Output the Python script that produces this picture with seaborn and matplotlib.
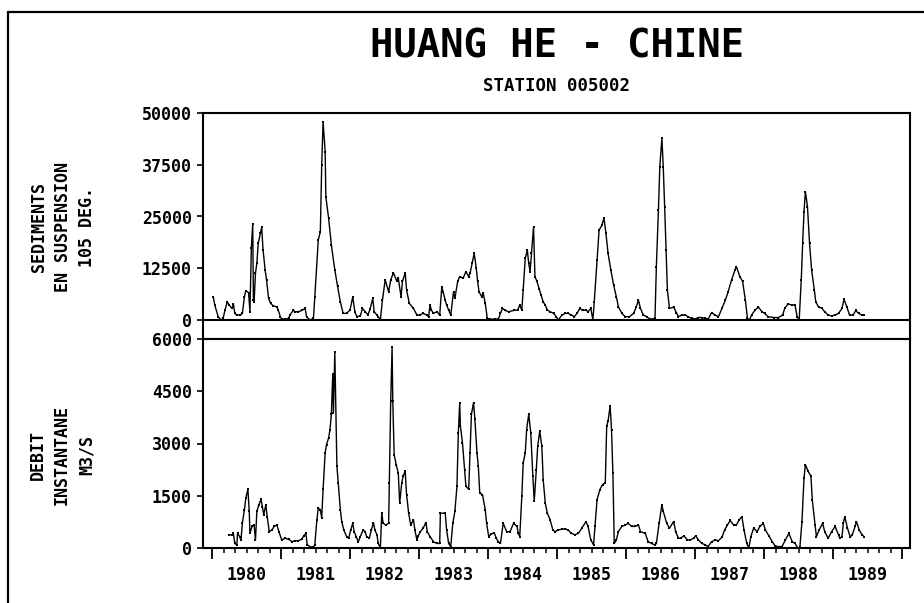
import numpy as np
import pandas as pd
import matplotlib
matplotlib.use("Agg")
import matplotlib.pyplot as plt
from matplotlib.lines import Line2D
import seaborn as sns

# ---------------- data ----------------
sed_year = [1980.02, 1980.04, 1980.09, 1980.13, 1980.16, 1980.19, 1980.22, 1980.25, 1980.29, 1980.31,
            1980.33, 1980.36, 1980.41, 1980.44, 1980.47, 1980.49, 1980.53, 1980.55, 1980.57, 1980.59,
            1980.60, 1980.61, 1980.63, 1980.65, 1980.67, 1980.70, 1980.72, 1980.74, 1980.77, 1980.79,
            1980.82, 1980.85, 1980.89, 1980.94, 1980.96, 1980.99, 1981.01, 1981.06, 1981.11, 1981.13,
            1981.18, 1981.20, 1981.25, 1981.30, 1981.35, 1981.37, 1981.42, 1981.47, 1981.49, 1981.54,
            1981.57, 1981.59, 1981.61, 1981.64, 1981.65, 1981.69, 1981.73, 1981.78, 1981.82, 1981.86,
            1981.90, 1981.95, 1982.00, 1982.04, 1982.07, 1982.10, 1982.15, 1982.18, 1982.22, 1982.26,
            1982.29, 1982.33, 1982.35, 1982.39, 1982.41, 1982.44, 1982.47, 1982.51, 1982.56, 1982.59,
            1982.63, 1982.68, 1982.70, 1982.74, 1982.76, 1982.80, 1982.82, 1982.86, 1982.92, 1982.97,
            1983.01, 1983.06, 1983.11, 1983.14, 1983.16, 1983.18, 1983.21, 1983.26, 1983.30, 1983.33,
            1983.35, 1983.38, 1983.40, 1983.43, 1983.46, 1983.50, 1983.52, 1983.56, 1983.59, 1983.64,
            1983.68, 1983.72, 1983.74, 1983.77, 1983.80, 1983.83, 1983.85, 1983.87, 1983.91, 1983.93,
            1983.96, 1983.99, 1984.03, 1984.10, 1984.15, 1984.18, 1984.21, 1984.25, 1984.30, 1984.37,
            1984.43, 1984.46, 1984.49, 1984.51, 1984.54, 1984.57, 1984.59, 1984.61, 1984.63, 1984.66,
            1984.68, 1984.71, 1984.74, 1984.77, 1984.80, 1984.83, 1984.86, 1984.90, 1984.95, 1984.99,
            1985.02, 1985.07, 1985.12, 1985.16, 1985.21, 1985.25, 1985.29, 1985.33, 1985.37, 1985.42,
            1985.45, 1985.49, 1985.52, 1985.54, 1985.58, 1985.61, 1985.65, 1985.68, 1985.71, 1985.74,
            1985.78, 1985.82, 1985.86, 1985.89, 1985.94, 1985.99, 1986.05, 1986.11, 1986.15, 1986.18,
            1986.21, 1986.25, 1986.30, 1986.35, 1986.39, 1986.42, 1986.44, 1986.47, 1986.49, 1986.52,
            1986.54, 1986.56, 1986.58, 1986.60, 1986.63, 1986.69, 1986.73, 1986.76, 1986.81, 1986.86,
            1986.90, 1986.95, 1987.00, 1987.05, 1987.10, 1987.15, 1987.19, 1987.24, 1987.29, 1987.34,
            1987.39, 1987.44, 1987.48, 1987.53, 1987.58, 1987.60, 1987.65, 1987.69, 1987.73, 1987.76,
            1987.79, 1987.82, 1987.87, 1987.92, 1987.97, 1988.01, 1988.06, 1988.14, 1988.21, 1988.27,
            1988.30, 1988.35, 1988.40, 1988.45, 1988.48, 1988.51, 1988.54, 1988.56, 1988.58, 1988.60,
            1988.63, 1988.66, 1988.69, 1988.73, 1988.75, 1988.79, 1988.84, 1988.88, 1988.93, 1988.98,
            1989.03, 1989.08, 1989.13, 1989.16, 1989.20, 1989.24, 1989.29, 1989.33, 1989.37, 1989.42,
            1989.45]
sed_val = [5500, 3600, 800, 0, 400, 2400, 4400, 3600, 2800, 3900,
           1600, 1200, 1200, 1600, 5600, 7100, 6600, 2000, 17300, 23200,
           4800, 4400, 11300, 13700, 18500, 20900, 22400, 16900, 12100, 9700,
           5200, 4000, 3400, 3200, 2400, 800, 200, 200, 400, 1200,
           2400, 2000, 2000, 2300, 2800, 800, 0, 400, 5600, 19300,
           21300, 37400, 47900, 40700, 29800, 24600, 18100, 12100, 8100, 4400,
           1600, 1600, 2400, 5600, 2000, 800, 1000, 2800, 2000, 1200,
           2600, 5200, 2000, 1200, 800, 0, 4800, 9700, 6800, 9700,
           11400, 9300, 10100, 5600, 9300, 11400, 7200, 4000, 2800, 1200,
           1200, 1600, 1200, 800, 3600, 2400, 1600, 2000, 1200, 7900,
           6800, 4800, 3600, 2400, 1200, 6800, 5200, 9300, 10500, 10100,
           11700, 10500, 11300, 13700, 16100, 12500, 9300, 6800, 5600, 6600,
           4000, 400, 200, 200, 200, 1600, 2800, 2300, 2000, 2300,
           2400, 3600, 2400, 7200, 14900, 16900, 13700, 11700, 16100, 22500,
           10500, 9300, 7600, 6000, 4400, 3600, 2400, 2000, 1600, 800,
           0, 1200, 1600, 1600, 1200, 800, 1600, 2800, 2300, 2400,
           2000, 2800, 0, 4400, 14500, 21700, 22900, 24600, 20900, 16100,
           12100, 8500, 5600, 3200, 1600, 800, 800, 1600, 3200, 4800,
           2800, 1200, 800, 200, 200, 400, 12900, 26600, 37000, 43900,
           37000, 27400, 16900, 7200, 2800, 3100, 1800, 800, 1200, 1200,
           800, 400, 200, 600, 600, 400, 200, 1800, 1200, 800,
           2800, 4800, 6800, 9700, 12100, 12900, 10500, 9300, 4800, 400,
           0, 1200, 2400, 3100, 2000, 1600, 800, 600, 600, 1200,
           2800, 3900, 3600, 3600, 800, 0, 9700, 18500, 26200, 31000,
           27400, 18500, 12100, 7200, 4400, 3200, 2800, 2000, 1200, 1000,
           1200, 1600, 2800, 5000, 3200, 1200, 1200, 2300, 1600, 1200,
           1200]

q_year = [1980.24, 1980.29, 1980.31, 1980.33, 1980.36, 1980.37, 1980.40, 1980.42, 1980.44, 1980.47,
          1980.49, 1980.52, 1980.54, 1980.55, 1980.58, 1980.61, 1980.63, 1980.65, 1980.68, 1980.71,
          1980.73, 1980.75, 1980.78, 1980.80, 1980.83, 1980.87, 1980.90, 1980.94, 1980.97, 1981.01,
          1981.06, 1981.11, 1981.16, 1981.20, 1981.25, 1981.30, 1981.33, 1981.36, 1981.38, 1981.42,
          1981.47, 1981.49, 1981.52, 1981.54, 1981.57, 1981.59, 1981.61, 1981.64, 1981.66, 1981.69,
          1981.71, 1981.73, 1981.75, 1981.76, 1981.78, 1981.81, 1981.83, 1981.86, 1981.88, 1981.91,
          1981.95, 1981.98, 1982.01, 1982.04, 1982.06, 1982.09, 1982.12, 1982.15, 1982.19, 1982.22,
          1982.24, 1982.28, 1982.31, 1982.34, 1982.36, 1982.39, 1982.41, 1982.44, 1982.46, 1982.48,
          1982.52, 1982.56, 1982.57, 1982.59, 1982.61, 1982.62, 1982.64, 1982.67, 1982.70, 1982.72,
          1982.75, 1982.77, 1982.80, 1982.82, 1982.85, 1982.88, 1982.92, 1982.94, 1982.97, 1982.99,
          1983.02, 1983.06, 1983.10, 1983.12, 1983.16, 1983.21, 1983.26, 1983.30, 1983.31, 1983.38,
          1983.40, 1983.43, 1983.46, 1983.49, 1983.52, 1983.55, 1983.57, 1983.59, 1983.60, 1983.63,
          1983.66, 1983.68, 1983.72, 1983.74, 1983.76, 1983.79, 1983.81, 1983.84, 1983.86, 1983.88,
          1983.92, 1983.96, 1983.98, 1984.01, 1984.05, 1984.09, 1984.12, 1984.15, 1984.18, 1984.22,
          1984.27, 1984.32, 1984.37, 1984.42, 1984.44, 1984.46, 1984.49, 1984.51, 1984.54, 1984.56,
          1984.59, 1984.62, 1984.65, 1984.67, 1984.70, 1984.72, 1984.75, 1984.78, 1984.80, 1984.83,
          1984.86, 1984.90, 1984.94, 1984.97, 1985.02, 1985.07, 1985.12, 1985.16, 1985.21, 1985.26,
          1985.31, 1985.36, 1985.42, 1985.45, 1985.49, 1985.53, 1985.55, 1985.58, 1985.62, 1985.66,
          1985.70, 1985.72, 1985.74, 1985.77, 1985.79, 1985.81, 1985.83, 1985.86, 1985.89, 1985.94,
          1985.99, 1986.03, 1986.08, 1986.13, 1986.18, 1986.21, 1986.28, 1986.32, 1986.37, 1986.42,
          1986.44, 1986.48, 1986.52, 1986.54, 1986.59, 1986.63, 1986.69, 1986.72, 1986.76, 1986.79,
          1986.84, 1986.89, 1986.93, 1986.98, 1987.01, 1987.05, 1987.10, 1987.15, 1987.19, 1987.24,
          1987.29, 1987.34, 1987.39, 1987.43, 1987.47, 1987.51, 1987.56, 1987.60, 1987.64, 1987.68,
          1987.71, 1987.75, 1987.78, 1987.81, 1987.85, 1987.90, 1987.94, 1987.99, 1988.02, 1988.07,
          1988.12, 1988.16, 1988.21, 1988.26, 1988.31, 1988.36, 1988.41, 1988.45, 1988.49, 1988.52,
          1988.55, 1988.58, 1988.60, 1988.64, 1988.68, 1988.70, 1988.74, 1988.76, 1988.80, 1988.85,
          1988.88, 1988.93, 1988.98, 1989.03, 1989.08, 1989.10, 1989.13, 1989.15, 1989.17, 1989.21,
          1989.25, 1989.28, 1989.32, 1989.34, 1989.38, 1989.42, 1989.45]
q_val = [380, 380, 420, 130, 90, 420, 330, 230, 710, 1100,
         1430, 1690, 1050, 420, 620, 660, 230, 1050, 1240, 1400,
         1190, 950, 1240, 900, 470, 520, 620, 660, 470, 230,
         280, 250, 180, 210, 210, 250, 350, 420, 90, 40,
         20, 90, 810, 1140, 1100, 860, 1690, 2730, 2970, 3160,
         3400, 3840, 4990, 3880, 5620, 2350, 1870, 1100, 760, 520,
         330, 280, 520, 710, 470, 330, 180, 330, 520, 470,
         330, 280, 520, 730, 520, 380, 130, 0, 1000, 710,
         660, 710, 1870, 4220, 5760, 4220, 2680, 2390, 2150, 1290,
         1870, 2060, 2200, 1530, 1000, 660, 810, 520, 230, 350,
         470, 570, 730, 470, 330, 180, 130, 130, 1000, 1000,
         520, 130, 40, 710, 1050, 1770, 3310, 4170, 3500, 3020,
         2250, 1770, 1690, 2730, 3840, 4170, 3690, 2730, 2350, 1580,
         1530, 1100, 710, 330, 400, 440, 280, 180, 130, 710,
         470, 470, 710, 620, 420, 330, 1480, 2440, 2730, 3400,
         3840, 3310, 2060, 1340, 2250, 2920, 3360, 2920, 1960, 1290,
         1000, 810, 520, 470, 520, 540, 550, 520, 420, 380,
         420, 570, 760, 620, 230, 90, 620, 1380, 1670, 1820,
         1870, 3500, 3640, 4080, 3400, 2150, 130, 230, 470, 620,
         660, 710, 620, 620, 660, 470, 420, 180, 130, 90,
         130, 710, 1240, 1050, 710, 570, 760, 470, 280, 280,
         350, 230, 230, 280, 350, 230, 130, 90, 40, 180,
         230, 210, 310, 520, 660, 790, 660, 660, 810, 900,
         520, 130, 0, 330, 570, 470, 620, 710, 520, 350,
         180, 60, 40, 40, 230, 420, 180, 130, 0, 20,
         760, 2010, 2390, 2200, 2060, 1380, 660, 330, 520, 710,
         470, 280, 470, 620, 380, 280, 330, 710, 900, 570,
         310, 380, 620, 760, 520, 380, 330]

sed_ticks = [0, 12500, 25000, 37500, 50000]
q_ticks = [0, 1500, 3000, 4500, 6000]
year_labels = ["1980", "1981", "1982", "1983", "1984", "1985", "1986", "1987", "1988", "1989"]

title = "HUANG HE - CHINE"
subtitle = "STATION 005002"
sed_label = "SEDIMENTS\nEN SUSPENSION\n105 DEG."
q_label = "DEBIT\nINSTANTANE\nM3/S"

# ---------------- style ----------------
sns.set_style("white")
plt.rcParams["font.family"] = ["DejaVu Sans Mono", "DejaVu Sans"]
plt.rcParams["font.weight"] = "bold"
for k in ("text.color", "axes.labelcolor", "xtick.color", "ytick.color", "axes.edgecolor"):
    plt.rcParams[k] = "black"

W, H = 924, 603
fig = plt.figure(figsize=(W / 100, H / 100), dpi=100)

left, right = 203, 910
top1, zero1, bot1 = 113, 320, 339
bot2 = 548
ax1 = fig.add_axes([left / W, 1 - bot1 / H, (right - left) / W, (bot1 - top1) / H])
ax2 = fig.add_axes([left / W, 1 - bot2 / H, (right - left) / W, (bot2 - bot1) / H])

xmin = 1980 - 9 / 69
xmax = 1980 + (right - 212) / 69

df_sed = pd.DataFrame({"year": sed_year, "val": sed_val})
df_q = pd.DataFrame({"year": q_year, "val": q_val})

for ax, df in ((ax1, df_sed), (ax2, df_q)):
    sns.lineplot(data=df, x="year", y="val", ax=ax, color="black", linewidth=1.0,
                 marker="s", markersize=1.8, markeredgewidth=0, estimator=None, sort=True)
    ax.set_xlim(xmin, xmax)
    ax.set_xlabel("")
    ax.set_ylabel("")
    for s in ax.spines.values():
        s.set_color("black")
        s.set_linewidth(1.5)
    ax.tick_params(axis="y", direction="out", length=4, width=1.2, color="black",
                   labelcolor="black", pad=4, labelsize=12, left=True)

# top panel
ax1.set_ylim(-50000 * (bot1 - zero1) / (zero1 - top1), 50000)
ax1.set_yticks(sed_ticks, [str(t) for t in sed_ticks])
ax1.axhline(0, color="black", linewidth=1.5)
ax1.tick_params(axis="x", bottom=False, labelbottom=False)

# bottom panel
ax2.set_ylim(0, 6000)
ax2.set_yticks(q_ticks, [str(t) for t in q_ticks])
ax2.set_xticks(np.arange(1980, 1991))
ax2.set_xticks(np.arange(1980, 1990, 1 / 6), minor=True)
ax2.tick_params(axis="x", which="major", direction="out", length=8, width=1.3,
                color="black", labelbottom=False, bottom=True)
ax2.tick_params(axis="x", which="minor", direction="out", length=3.5, width=1.1,
                color="black", bottom=True)

sec = ax2.secondary_xaxis("bottom")
sec.set_xticks(np.arange(1980, 1990) + 0.5, year_labels)
sec.tick_params(axis="x", length=0, pad=13, labelsize=12, labelcolor="black")
sec.spines["bottom"].set_visible(False)

# titles
cx = ((left + right) / 2) / W
fig.text(cx, 1 - 47 / H, title, ha="center", va="center", fontsize=28,
         fontweight="bold", color="black")
fig.text(cx, 1 - 86 / H, subtitle, ha="center", va="center", fontsize=12.5,
         fontweight="bold", color="black")

# axis labels
fig.text(63 / W, 1 - 227 / H, sed_label, rotation=90, ha="center", va="center",
         multialignment="center", fontsize=12, fontweight="bold", linespacing=1.45,
         color="black")
fig.text(62 / W, 1 - 455 / H, q_label, rotation=90, ha="center", va="center",
         multialignment="center", fontsize=12, fontweight="bold", linespacing=1.45,
         color="black")

# outer frame (cut off at right/bottom)
fig.add_artist(Line2D([8 / W, 1.0], [1 - 12 / H, 1 - 12 / H], transform=fig.transFigure,
                      color="black", linewidth=1.6))
fig.add_artist(Line2D([8 / W, 8 / W], [1 - 12 / H, 0.0], transform=fig.transFigure,
                      color="black", linewidth=1.6))

fig.savefig("out.png", dpi=100, facecolor="white")
